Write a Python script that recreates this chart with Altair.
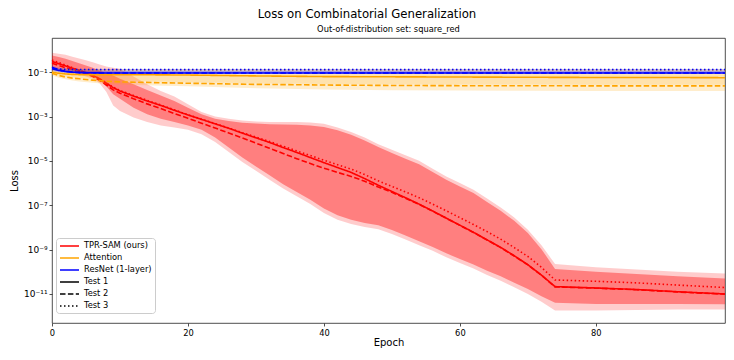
import altair as alt
import pandas as pd

TITLE = "Loss on Combinatorial Generalization"
SUBTITLE = "Out-of-distribution set: square_red"
MODELS = ["TPR-SAM (ours)", "Attention", "ResNet (1-layer)"]
TESTS = ["Test 1", "Test 2", "Test 3"]
COLORS = ["#ff0000", "#ffa500", "#0000ff"]
INNER_OPACITY = [0.375, 0.15, 0.2]
X_TICKS = [0, 20, 40, 60, 80]
Y_TICK_EXP = [-1, -3, -5, -7, -9, -11]
Y_TICK_LABELS = ["10\u207b\u00b9", "10\u207b\u00b3", "10\u207b\u2075", "10\u207b\u2077", "10\u207b\u2079", "10\u207b\u00b9\u00b9"]

# ---- values (log10 of loss) ----
R_EPOCH = [0, 1, 2, 3, 4, 5, 6, 7, 8, 9, 10, 12, 14, 16, 18, 20, 22, 24, 26, 28, 30, 32, 34, 36, 38, 40,
           42, 44, 46, 48, 50, 52, 54, 56, 58, 60, 62, 64, 66, 68, 70, 72, 74, 80, 86, 92, 99]
R_T1 = [-0.52, -0.62, -0.72, -0.82, -0.92, -1.02, -1.14, -1.3, -1.5, -1.7, -1.85,
        -2.08, -2.3, -2.5, -2.72, -2.93, -3.13, -3.33, -3.53, -3.75, -3.96, -4.17, -4.4, -4.62, -4.85, -5.08,
        -5.3, -5.52, -5.8, -6.1, -6.38, -6.66, -6.95, -7.26, -7.58, -7.9, -8.22, -8.56, -8.9, -9.28, -9.68,
        -10.15, -10.67, -10.73, -10.8, -10.9, -11.0]
R_T2 = [-0.6, -0.7, -0.8, -0.88, -0.97, -1.07, -1.2, -1.37, -1.58, -1.8, -1.95,
        -2.2, -2.43, -2.64, -2.87, -3.08, -3.3, -3.52, -3.74, -3.97, -4.2, -4.43, -4.67, -4.9, -5.12, -5.33,
        -5.52, -5.7, -5.92, -6.18, -6.42, -6.69, -6.96, -7.27, -7.59, -7.91, -8.23, -8.57, -8.91, -9.29, -9.69,
        -10.16, -10.68, -10.74, -10.81, -10.91, -11.01]
R_T3 = [-0.45, -0.57, -0.68, -0.8, -0.92, -1.03, -1.15, -1.3, -1.48, -1.67, -1.83,
        -2.05, -2.27, -2.48, -2.7, -2.92, -3.12, -3.32, -3.52, -3.73, -3.93, -4.13, -4.34, -4.55, -4.76, -4.97,
        -5.17, -5.37, -5.62, -5.9, -6.15, -6.4, -6.66, -6.95, -7.25, -7.56, -7.87, -8.19, -8.53, -8.91, -9.31,
        -9.8, -10.37, -10.43, -10.5, -10.6, -10.71]
R_OUT_HI = [-0.12, -0.17, -0.22, -0.3, -0.38, -0.46, -0.55, -0.65, -0.75, -0.8, -0.85,
            -1.2, -1.55, -1.85, -2.1, -2.45, -2.8, -3.0, -3.1, -3.18, -3.22, -3.25, -3.25, -3.25, -3.27, -3.33,
            -3.5, -3.7, -3.95, -4.25, -4.5, -4.75, -5.0, -5.35, -5.7, -6.0, -6.3, -6.7, -7.1, -7.55, -8.1,
            -8.8, -9.65, -9.8, -9.9, -10.0, -10.08]
R_OUT_LO = [-0.9, -0.95, -1.0, -1.05, -1.1, -1.2, -1.3, -1.5, -1.9, -2.5, -2.75,
            -3.05, -3.25, -3.4, -3.5, -3.6, -3.8, -4.15, -4.6, -5.05, -5.45, -5.85, -6.25, -6.6, -6.95, -7.35,
            -7.65, -7.85, -7.98, -8.08, -8.3, -8.55, -8.8, -9.05, -9.35, -9.6, -9.85, -10.15, -10.4, -10.7, -11.0,
            -11.35, -11.75, -11.75, -11.72, -11.7, -11.7]
R_IN_HI = [-0.25, -0.32, -0.4, -0.5, -0.6, -0.7, -0.8, -0.92, -1.05, -1.15, -1.3,
           -1.55, -1.8, -2.05, -2.3, -2.6, -2.9, -3.1, -3.2, -3.28, -3.32, -3.35, -3.36, -3.37, -3.4, -3.47,
           -3.62, -3.82, -4.08, -4.38, -4.65, -4.9, -5.15, -5.5, -5.85, -6.15, -6.45, -6.85, -7.25, -7.7, -8.25,
           -8.98, -9.87, -10.0, -10.1, -10.2, -10.3]
R_IN_LO = [-0.8, -0.87, -0.93, -0.98, -1.03, -1.1, -1.2, -1.38, -1.65, -2.0, -2.2,
           -2.6, -2.9, -3.1, -3.25, -3.4, -3.6, -3.95, -4.4, -4.85, -5.25, -5.65, -6.05, -6.4, -6.75, -7.15,
           -7.45, -7.65, -7.8, -7.9, -8.12, -8.37, -8.62, -8.88, -9.17, -9.42, -9.67, -9.95, -10.2, -10.5, -10.78,
           -11.1, -11.4, -11.45, -11.45, -11.45, -11.47]

O_EPOCH = [0, 1, 2, 3, 4, 6, 8, 10, 15, 20, 30, 40, 50, 60, 70, 80, 90, 99]
O_T1 = [-1.0, -1.05, -1.08, -1.1, -1.11, -1.12, -1.12, -1.12, -1.12, -1.13, -1.17, -1.2, -1.21, -1.22, -1.23, -1.24, -1.24, -1.25]
O_T2 = [-1.05, -1.15, -1.22, -1.27, -1.3, -1.36, -1.41, -1.44, -1.47, -1.5, -1.55, -1.58, -1.6, -1.61, -1.61, -1.62, -1.62, -1.62]
O_T3 = [-0.88, -0.89, -0.9, -0.9, -0.9, -0.9, -0.9, -0.9, -0.9, -0.9, -0.9, -0.9, -0.9, -0.9, -0.9, -0.9, -0.9, -0.9]
O_OUT_HI = [-0.8, -0.82, -0.84, -0.85, -0.86, -0.86, -0.86, -0.86, -0.87, -0.87, -0.87, -0.87, -0.87, -0.87, -0.87, -0.87, -0.87, -0.87]
O_OUT_LO = [-1.15, -1.25, -1.32, -1.38, -1.42, -1.48, -1.53, -1.56, -1.6, -1.64, -1.72, -1.78, -1.82, -1.83, -1.84, -1.85, -1.85, -1.85]
O_IN_HI = [-0.92, -0.96, -0.99, -1.0, -1.02, -1.03, -1.04, -1.05, -1.06, -1.07, -1.09, -1.1, -1.1, -1.1, -1.1, -1.1, -1.1, -1.1]
O_IN_LO = [-1.08, -1.15, -1.2, -1.24, -1.27, -1.32, -1.36, -1.39, -1.42, -1.45, -1.5, -1.53, -1.55, -1.56, -1.56, -1.57, -1.57, -1.57]

B_EPOCH = [0, 1, 2, 3, 4, 6, 8, 10, 20, 40, 60, 80, 99]
B_T1 = [-0.85, -0.92, -0.97, -1.0, -1.02, -1.03, -1.04, -1.04, -1.04, -1.04, -1.04, -1.04, -1.04]
B_T2 = [-0.78, -0.9, -0.96, -1.0, -1.02, -1.03, -1.04, -1.04, -1.04, -1.04, -1.04, -1.04, -1.04]
B_T3 = [-0.83, -0.86, -0.88, -0.88, -0.88, -0.88, -0.88, -0.88, -0.88, -0.88, -0.88, -0.88, -0.88]
B_OUT_HI = [-0.72, -0.8, -0.84, -0.85, -0.86, -0.86, -0.86, -0.86, -0.86, -0.86, -0.86, -0.86, -0.86]
B_OUT_LO = [-0.95, -1.0, -1.03, -1.05, -1.06, -1.06, -1.06, -1.06, -1.06, -1.06, -1.06, -1.06, -1.06]
B_IN_HI = [-0.8, -0.86, -0.9, -0.92, -0.94, -0.95, -0.95, -0.95, -0.95, -0.95, -0.95, -0.95, -0.95]
B_IN_LO = [-0.9, -0.96, -1.0, -1.02, -1.04, -1.05, -1.05, -1.05, -1.05, -1.05, -1.05, -1.05, -1.05]

SERIES = [
    (R_EPOCH, [R_T1, R_T2, R_T3], (R_OUT_HI, R_OUT_LO), (R_IN_HI, R_IN_LO)),
    (O_EPOCH, [O_T1, O_T2, O_T3], (O_OUT_HI, O_OUT_LO), (O_IN_HI, O_IN_LO)),
    (B_EPOCH, [B_T1, B_T2, B_T3], (B_OUT_HI, B_OUT_LO), (B_IN_HI, B_IN_LO)),
]

FONT = "DejaVu Sans"
LEGEND_LABELS = MODELS + TESTS
W, H = 673, 285

x_scale = alt.Scale(domain=[0, 99], nice=False, zero=False)
y_scale = alt.Scale(type="log", domain=[10 ** -12.31, 10 ** 0.54], nice=False)

exp_expr = "round(log(datum.value)/LN10)"
label_expr = ""
for e, lab in zip(Y_TICK_EXP, Y_TICK_LABELS):
    label_expr += f"{exp_expr} == {e} ? '{lab}' : "
label_expr += "''"

x_axis = alt.Axis(values=X_TICKS, title="Epoch", labelFlush=False)
y_axis = alt.Axis(values=[10.0 ** e for e in Y_TICK_EXP], labelExpr=label_expr, title="Loss",
                  labelFontSize=9)

legend = alt.Legend(
    title=None, orient="none", legendX=4, legendY=200,
    symbolType="M-1,0H3.75", symbolSize=64, symbolStrokeWidth=1.5,
    symbolFillColor="transparent",
    labelFont=FONT, labelFontSize=8.3, labelColor="black", labelOffset=15,
    rowPadding=3, padding=3, strokeColor="#cccccc", fillColor="#ffffff",
    cornerRadius=3,
)
color_scale = alt.Scale(domain=LEGEND_LABELS, range=COLORS + ["black", "black", "black"])
dash_scale = alt.Scale(domain=LEGEND_LABELS,
                       range=[[1, 0], [1, 0], [1, 0], [1, 0], [5.5, 2.4], [1.5, 2.5]])

layers = []
for mi, (model, (ep, tvals, outer, inner)) in enumerate(zip(MODELS, SERIES)):
    band = pd.DataFrame({
        "epoch": ep,
        "out_hi": [10 ** v for v in outer[0]], "out_lo": [10 ** v for v in outer[1]],
        "in_hi": [10 ** v for v in inner[0]], "in_lo": [10 ** v for v in inner[1]],
    })
    layers.append(alt.Chart(band).mark_area(color=COLORS[mi], opacity=0.2).encode(
        x=alt.X("epoch:Q", scale=x_scale, axis=x_axis),
        y=alt.Y("out_hi:Q", scale=y_scale, axis=y_axis),
        y2="out_lo:Q"))
    layers.append(alt.Chart(band).mark_area(color=COLORS[mi], opacity=INNER_OPACITY[mi]).encode(
        x=alt.X("epoch:Q", scale=x_scale),
        y=alt.Y("in_hi:Q", scale=y_scale),
        y2="in_lo:Q"))
    rows = []
    for ti, test in enumerate(TESTS):
        for e, v in zip(ep, tvals[ti]):
            rows.append({"epoch": e, "loss": 10 ** v, "model": model, "test": test})
    ldf = pd.DataFrame(rows)
    layers.append(alt.Chart(ldf).mark_line(strokeWidth=1.6).encode(
        x=alt.X("epoch:Q", scale=x_scale),
        y=alt.Y("loss:Q", scale=y_scale),
        color=alt.Color("model:N", scale=color_scale, legend=legend),
        strokeDash=alt.StrokeDash("test:N", scale=dash_scale, legend=legend),
        detail="test:N"))

title_df = pd.DataFrame({"t": [TITLE]})
sub_df = pd.DataFrame({"t": [SUBTITLE]})
layers.append(alt.Chart(title_df).mark_text(font=FONT, fontSize=11.7, color="black",
                                            align="center", baseline="middle").encode(
    text="t:N", x=alt.value(315), y=alt.value(-24)))
layers.append(alt.Chart(sub_df).mark_text(font=FONT, fontSize=8.3, color="black",
                                          align="center", baseline="middle").encode(
    text="t:N", x=alt.value(W / 2), y=alt.value(-8)))

chart = alt.layer(*layers).properties(
    width=W, height=H,
    autosize=alt.AutoSizeParams(type="none"),
    padding={"left": 44, "top": 30, "right": 1, "bottom": 28},
).configure_view(stroke="#222222", strokeWidth=0.8).configure_axis(
    domain=False, grid=False, ticks=True, tickColor="#222222", tickWidth=0.8, tickSize=3,
    labelFont=FONT, labelFontSize=8.3, labelColor="black", labelPadding=2,
    titleFont=FONT, titleFontSize=10, titleFontWeight="normal", titleColor="black",
).configure_axisX(titlePadding=1).configure_axisY(titlePadding=4)

chart.save("out.html", embed_options={"renderer": "svg", "actions": False})
